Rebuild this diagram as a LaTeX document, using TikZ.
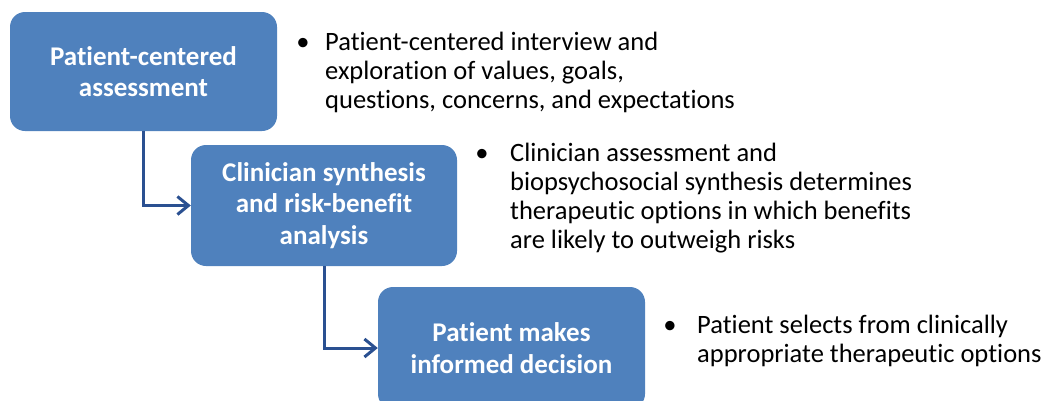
\documentclass[tikz,border=0pt]{standalone}
\usepackage{fontspec}
\setmainfont{Carlito}[Ligatures=NoCommon]
\usetikzlibrary{arrows.meta}
\definecolor{boxblue}{RGB}{79,129,189}
\definecolor{arrowblue}{RGB}{42,80,145}
\begin{document}
\begin{tikzpicture}[x=1pt,y=-1pt,
 stage/.style={fill=boxblue, rounded corners=15pt, text=white, font=\fontsize{27}{31.5}\selectfont\bfseries, align=center, minimum width=267pt, minimum height=120pt, inner sep=0pt},
 flow/.style={draw=arrowblue, line width=3pt, -{Straight Barb[length=11pt,width=18pt]}},
 note/.style={anchor=base west, align=left, font=\fontsize{26.5}{29}\selectfont, inner sep=0pt},
 dot/.style={anchor=base, font=\fontsize{26.5}{29}\selectfont, inner sep=0pt}]
\useasboundingbox (0,0) rectangle (1044,400);
\clip (0,0) rectangle (1044,400);
\node[stage, minimum height=119pt] (s1) at (143.5,71.5) {Patient-centered\\assessment};
\node[stage, minimum height=121pt, minimum width=266pt] (s2) at (324,205.5) {Clinician synthesis\\and risk-benefit\\analysis};
\node[stage, minimum height=122pt] (s3) at (511.5,348) {Patient makes\\informed decision};
\draw[flow] (s1.south) |- (s2.west);
\draw[flow] (s2.south) |- (s3.west);
\node[dot] (b1) at (303,50) {•};
\node[note] (t1) at (325,108) {Patient-centered interview and\\exploration of values, goals,\\questions, concerns, and expectations};
\node[dot] (b2) at (482,161) {•};
\node[note] (t2) at (510,248) {Clinician assessment and\\biopsychosocial synthesis determines\\therapeutic options in which benefits\\are likely to outweigh risks};
\node[dot] (b3) at (670,333) {•};
\node[note] (t3) at (697,362) {Patient selects from clinically\\appropriate therapeutic options};
\end{tikzpicture}
\end{document}
